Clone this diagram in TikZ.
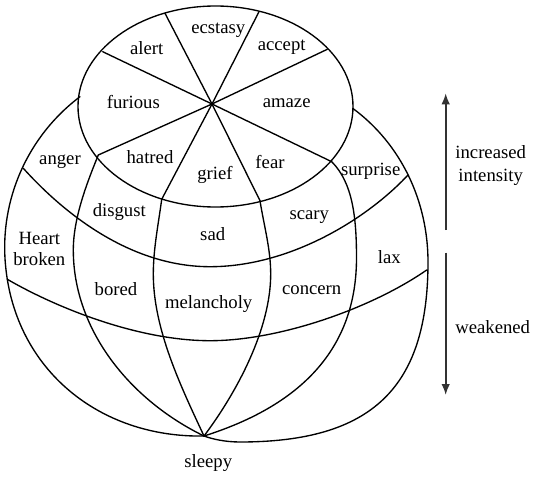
\documentclass[tikz,border=0pt]{standalone}
\usepackage{fontspec}
\setmainfont{Liberation Serif}
\usetikzlibrary{arrows.meta}
\begin{document}
\begin{tikzpicture}[x=1pt,y=-1pt,
  line/.style={line width=1.35pt, line join=round, line cap=round},
  lbl/.style={font=\fontsize{18.7}{21.7}\selectfont, inner sep=0pt, align=center},
  arr/.style={line width=1.7pt, draw=black!80, -{Latex[length=11pt,width=8.5pt]}}]
\useasboundingbox (0,0) rectangle (536,479);

% key points
\coordinate (hub) at (212,104);
\coordinate (pole) at (204,436);
\coordinate (r1) at (102.7,51.7);
\coordinate (r2) at (165,13.3);
\coordinate (r3) at (259,11.7);
\coordinate (r4) at (327.3,49.3);
\coordinate (r5) at (331.7,161.7);
\coordinate (r6) at (260,200.7);
\coordinate (r7) at (161.7,199.3);
\coordinate (r8) at (98.3,155);
\coordinate (oL) at (80,96.7);
\coordinate (oR) at (352.7,108.3);

% top cap
\draw[line] (215.5,106.5) ellipse [x radius=137.5pt, y radius=100.5pt];
\foreach \r in {r1,r2,r3,r4,r5,r6,r7,r8} \draw[line] (hub) -- (\r);

% outer meridians
\draw[line] (oL) .. controls (27.7,136.1) and (-0.6,199.8) .. (5.5,265)
  .. controls (15,370) and (100,438) .. (pole);
\draw[line] (oR) .. controls (401.4,144.2) and (428,201.6) .. (428,262)
  .. controls (428,388) and (371.6,442) .. (240,442)
  .. controls (225,442) and (212,439) .. (pole);

% inner meridians
\draw[line] (r8) .. controls (87,182.8) and (73.3,218) .. (73.3,250)
  .. controls (73.3,330) and (130,400) .. (pole);
\draw[line] (r7) .. controls (158.4,224.1) and (153.3,249) .. (153.3,274)
  .. controls (153.3,329) and (180.7,386.2) .. (pole);
\draw[line] (r6) .. controls (263.9,225.4) and (270.7,249) .. (270.7,274)
  .. controls (270.7,329) and (237,392) .. (pole);
\draw[line] (r5) .. controls (352.9,182.9) and (356.5,218) .. (356.5,258)
  .. controls (356.5,350) and (299.4,405.9) .. (pole);

% latitudes
\draw[line] (23.3,168.3) .. controls (63.4,212.9) and (130,266.7) .. (210,266.7)
  .. controls (290,266.7) and (367.1,218.9) .. (408,175);
\draw[line] (7.3,279.3) .. controls (59.3,309.3) and (140,340.7) .. (210,340.7)
  .. controls (280,340.7) and (372,308) .. (426.7,270);

% labels
\node[lbl] (ecstasy) at (218.3,30) {ecstasy};
\node[lbl] (alert) at (146.7,47.7) {alert};
\node[lbl] (accept) at (281.7,47.7) {accept};
\node[lbl] (furious) at (133.3,101.7) {furious};
\node[lbl] (amaze) at (286.7,102.7) {amaze};
\node[lbl] (hatred) at (150,156.7) {hatred};
\node[lbl] (grief) at (215,175) {grief};
\node[lbl] (fear) at (270,162.3) {fear};
\node[lbl] (anger) at (60,161.7) {anger};
\node[lbl] (surprise) at (370.7,171.7) {surprise};
\node[lbl] (disgust) at (119.3,211.7) {disgust};
\node[lbl] (sad) at (212.7,234.5) {sad};
\node[lbl] (scary) at (309.3,216.7) {scary};
\node[lbl] (heart) at (39.3,249) {Heart\\broken};
\node[lbl] (lax) at (389.3,257.3) {lax};
\node[lbl] (bored) at (116,289) {bored};
\node[lbl] (melancholy) at (208.7,303.7) {melancholy};
\node[lbl] (concern) at (311.7,290) {concern};
\node[lbl] (sleepy) at (208.3,463.3) {sleepy};
\node[lbl, font=\fontsize{18.7}{23}\selectfont] (inc) at (490.7,165.8) {increased\\intensity};
\node[lbl] (weak) at (492.7,326.7) {weakened};

% arrows
\coordinate (upS) at (445.7,230);
\coordinate (upT) at (445.7,93.3);
\coordinate (dnS) at (445.7,252.7);
\coordinate (dnT) at (445.7,395);
\draw[arr] (upS) -- (upT);
\draw[arr] (dnS) -- (dnT);
\end{tikzpicture}
\end{document}
